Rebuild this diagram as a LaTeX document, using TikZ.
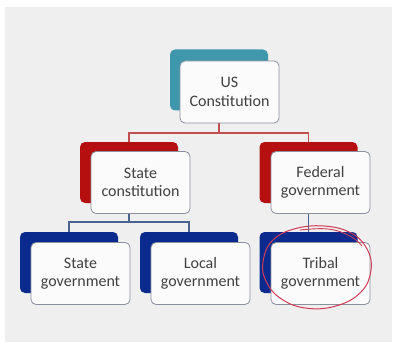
\documentclass[tikz,border=0pt]{standalone}
\usepackage{fontspec}
\setmainfont{Carlito}
\definecolor{bgc}{HTML}{EFEFEF}
\definecolor{tealc}{HTML}{3F97AC}
\definecolor{redc}{HTML}{B50F0F}
\definecolor{bluec}{HTML}{0A2A8E}
\definecolor{redline}{HTML}{C0504D}
\definecolor{blueline}{HTML}{4A6290}
\definecolor{txt}{HTML}{404040}
\definecolor{frameg}{HTML}{8A909E}
\definecolor{penred}{HTML}{D03C55}
\begin{document}
\begin{tikzpicture}[x=1pt,y=-1pt,
  tabbox/.style={fill=#1, draw=none, rounded corners=5pt, minimum width=98pt, minimum height=61pt, inner sep=0pt},
  frontbox/.style={fill=white!97!gray, draw=frameg, line width=0.8pt, rounded corners=5pt, minimum width=99pt, minimum height=62pt, inner sep=0pt, align=center, text=txt, font=\fontsize{16}{18.5}\selectfont},
  redconn/.style={draw=redline, line width=1.6pt},
  blueconn/.style={draw=blueline, line width=1.6pt}]
\useasboundingbox (0,0) rectangle (394,345);
\fill[white] (0,0) rectangle (394,345);
\fill[bgc] (5,7) rectangle (392,342);
% tabs
\node[tabbox=tealc] (ust) at (219,80) {};
\node[tabbox=redc] (sct) at (129,172.5) {};
\node[tabbox=redc] (fgt) at (308.5,172.5) {};
\node[tabbox=bluec] (sgt) at (69,262.5) {};
\node[tabbox=bluec] (lgt) at (189,262.5) {};
\node[tabbox=bluec] (tgt) at (308.5,262.5) {};
% connectors
\draw[redconn] (ust.south) -- ++(0,22) coordinate (jr) -| (sct.north);
\draw[redconn] (jr) -| (fgt.north);
\draw[blueconn] (sct.south) -- ++(0,19) coordinate (jb) -| (sgt.north);
\draw[blueconn] (jb) -| (lgt.north);
\draw[blueconn] (fgt.south) -- (tgt.north);
% fronts
\node[frontbox] (us) at (229.5,92) {US\\Constitution};
\node[frontbox] (sc) at (140.5,182.5) {State\\constitution};
\node[frontbox] (fg) at (320.5,182.5) {Federal\\government};
\node[frontbox] (sg) at (80.5,273.5) {State\\government};
\node[frontbox] (lg) at (200.5,273.5) {Local\\government};
\node[frontbox] (tg) at (320.5,273.5) {Tribal\\government};
% hand-drawn circle
\draw[penred, line width=1pt] plot[smooth cycle, tension=0.7] coordinates {(263,262) (272,241) (294,229) (324,226) (351,233) (367,249) (371,270) (361,292) (336,306) (305,308) (280,298) (266,281)};
\draw[penred, line width=0.9pt] plot[smooth, tension=0.7] coordinates {(300,230) (328,229) (350,236) (362,246)};
\end{tikzpicture}
\end{document}
